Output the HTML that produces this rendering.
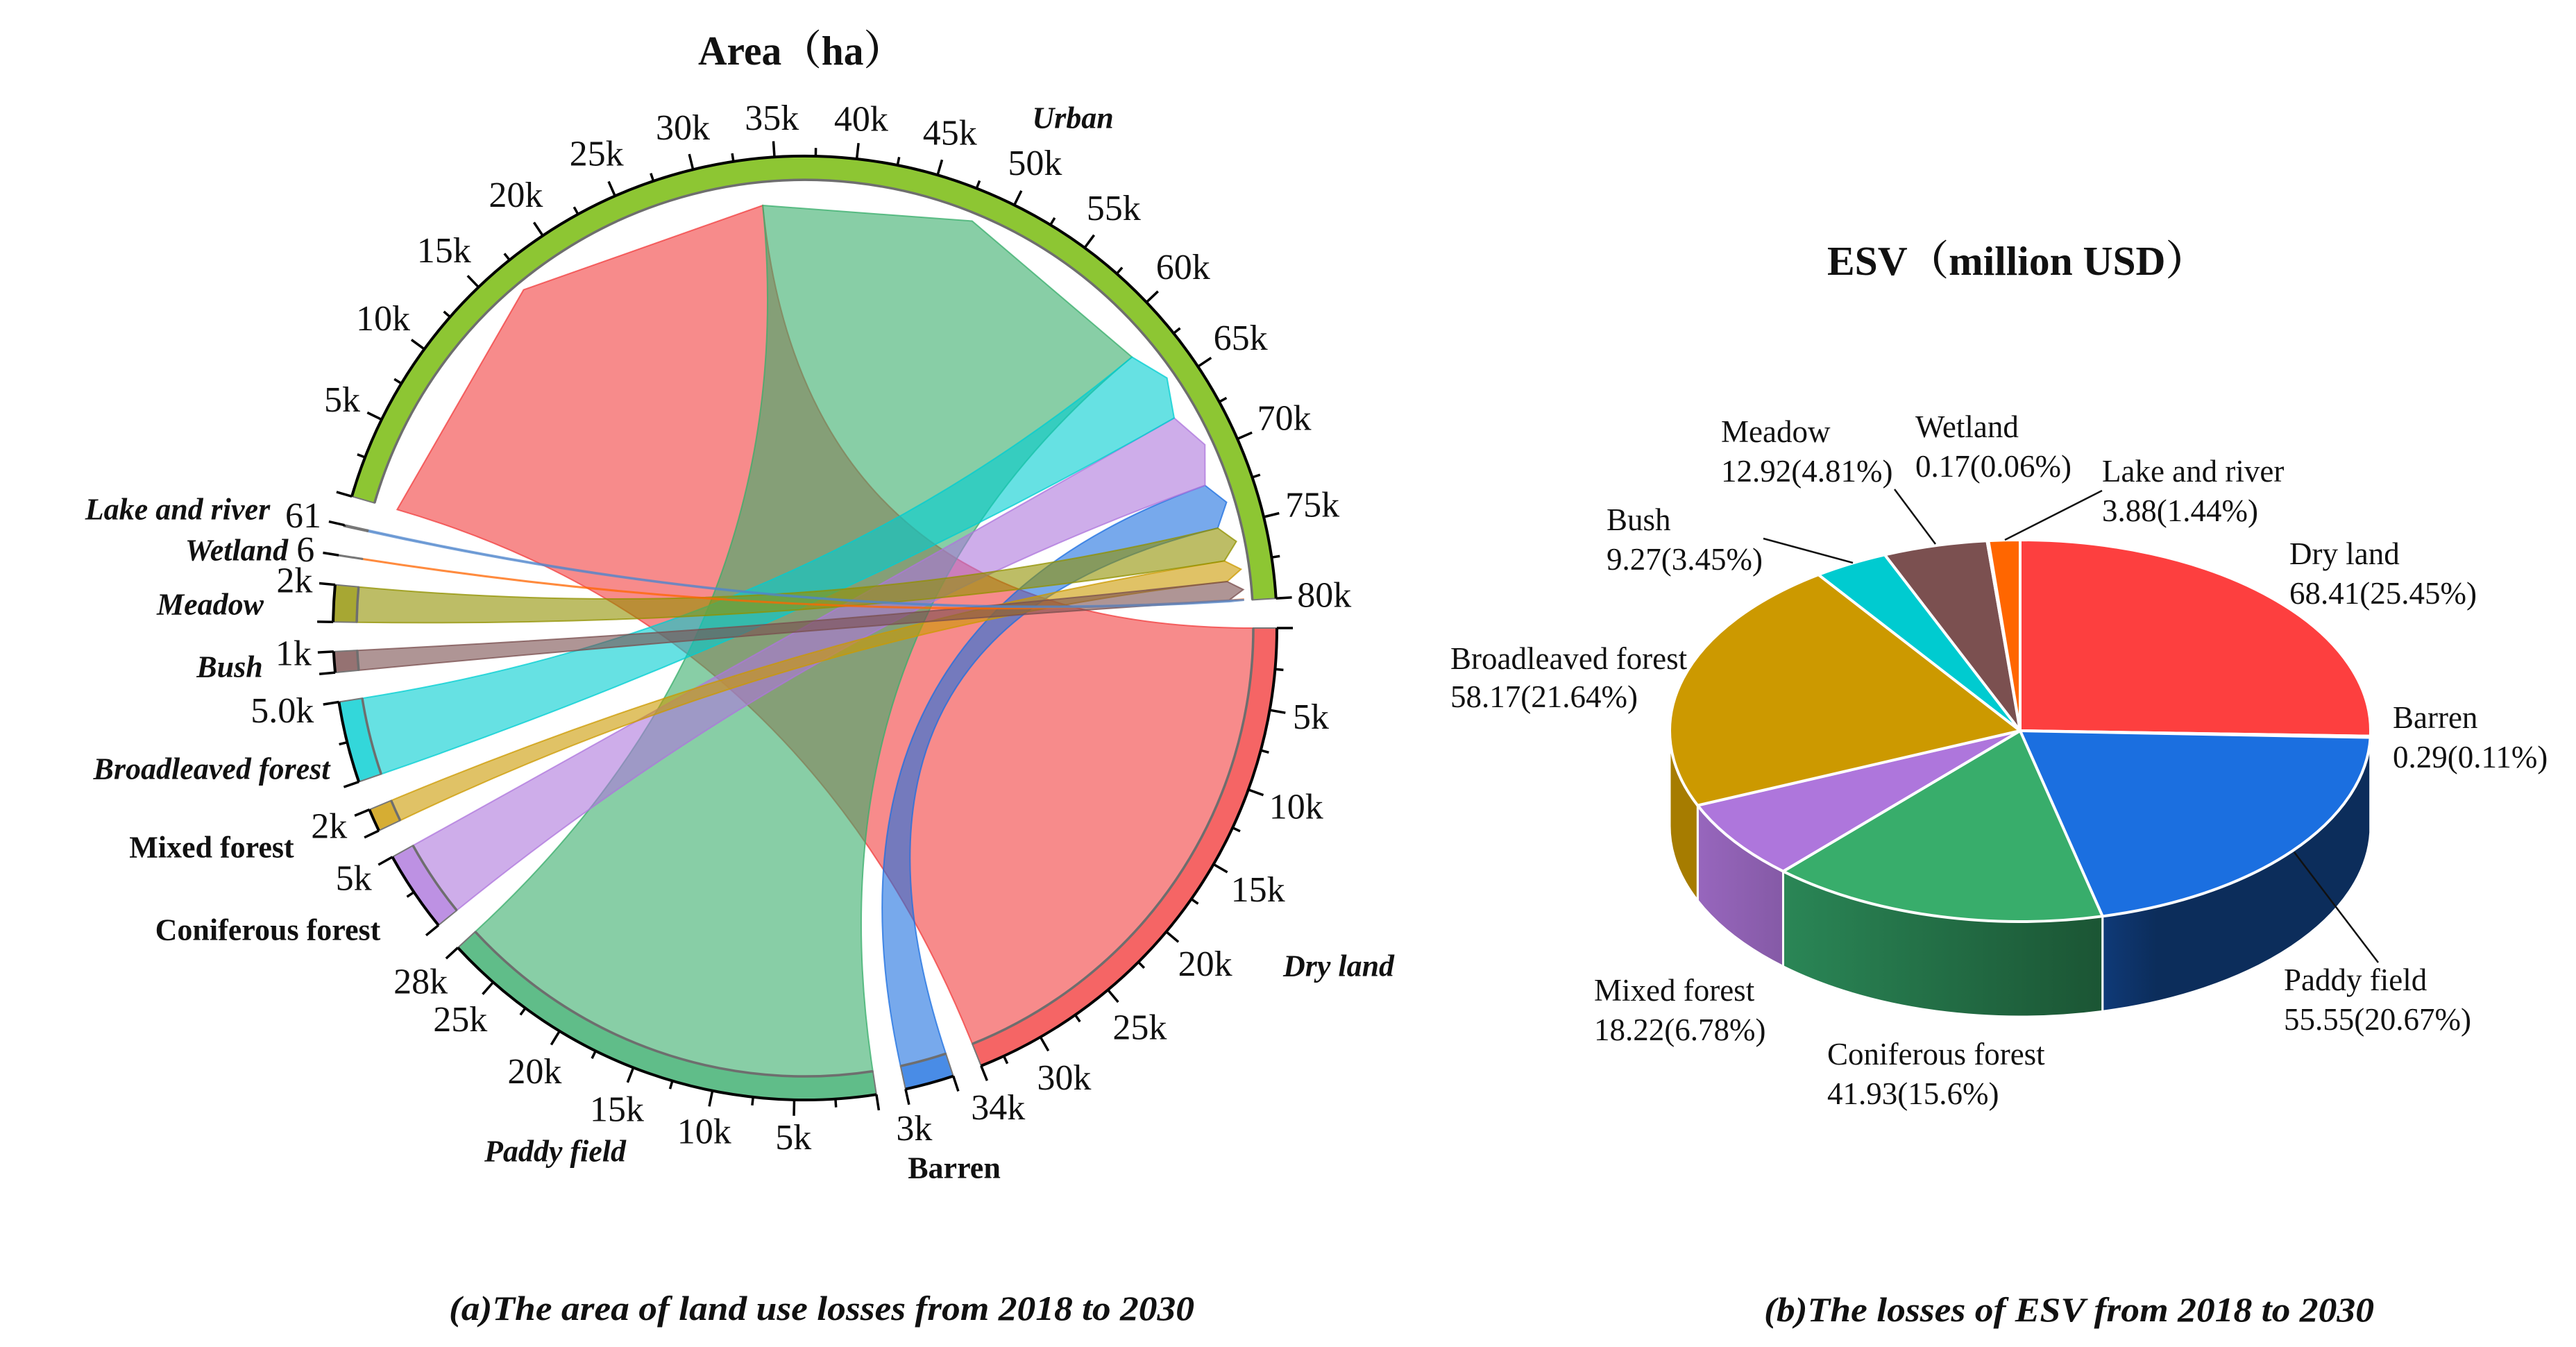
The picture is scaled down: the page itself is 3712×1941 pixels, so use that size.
<!DOCTYPE html>
<html lang="en">
<head>
<meta charset="utf-8">
<title>Land use losses and ESV losses</title>
<style>
html,body{margin:0;padding:0;background:#fff;}
svg{display:block;}
text{font-family:"Liberation Serif","Noto Serif CJK SC",serif;fill:#111;}
.cat{font-weight:bold;font-style:italic;font-size:44px;text-anchor:middle;dominant-baseline:central;}
.catb{font-weight:bold;font-size:44px;text-anchor:middle;dominant-baseline:central;}
.title{font-weight:bold;font-size:59px;dominant-baseline:central;}
.cap{font-weight:bold;font-style:italic;font-size:50px;dominant-baseline:central;}
.pl{font-size:45px;dominant-baseline:central;}
.tick{font-size:52px;text-anchor:middle;dominant-baseline:central;}
</style>
</head>
<body>
<svg xmlns="http://www.w3.org/2000/svg" width="3712" height="1941" viewBox="0 0 3712 1941">
  <defs>
    <linearGradient id="wall-paddy" gradientUnits="userSpaceOnUse" x1="3030" y1="0" x2="3416" y2="0"><stop offset="0" stop-color="#0f3a78"/><stop offset="0.2" stop-color="#0c2d5b"/><stop offset="1" stop-color="#0c2d5b"/></linearGradient>
    <linearGradient id="wall-conif" gradientUnits="userSpaceOnUse" x1="2570" y1="0" x2="3030" y2="0"><stop offset="0" stop-color="#2a8656"/><stop offset="1" stop-color="#1b5534"/></linearGradient>
    <linearGradient id="wall-mixed" gradientUnits="userSpaceOnUse" x1="2447" y1="0" x2="2570" y2="0"><stop offset="0" stop-color="#9766bd"/><stop offset="1" stop-color="#855aa6"/></linearGradient>
  </defs>

  <text class="title" x="1006" y="73" textLength="296" lengthAdjust="spacingAndGlyphs">Area（ha）</text>
  <g id="chord"></g>

  <text class="cat" x="1546" y="170">Urban</text>
  <text class="cat" x="1929" y="1392">Dry land</text>
  <text class="cat" x="800" y="1659">Paddy field</text>
  <text class="catb" x="1375" y="1683">Barren</text>
  <text class="catb" x="386" y="1340">Coniferous forest</text>
  <text class="catb" x="305" y="1221">Mixed forest</text>
  <text class="cat" x="305" y="1108">Broadleaved forest</text>
  <text class="cat" x="331" y="961">Bush</text>
  <text class="cat" x="303" y="871">Meadow</text>
  <text class="cat" x="341" y="793">Wetland</text>
  <text class="cat" x="256" y="734">Lake and river</text>

  <text class="cap" x="647" y="1885" textLength="1074" lengthAdjust="spacingAndGlyphs">(a)The area of land use losses from 2018 to 2030</text>

  <text class="title" x="2633" y="376" textLength="547" lengthAdjust="spacingAndGlyphs">ESV（million USD）</text>
  <g id="pie"></g>

  <g stroke="#111" stroke-width="2.5">
    <line x1="2889" y1="778" x2="3029" y2="707"/>
    <line x1="2789" y1="784" x2="2730" y2="705"/>
    <line x1="2670" y1="811" x2="2541" y2="776"/>
    <line x1="3306" y1="1228" x2="3427" y2="1387"/>
  </g>

  <g>
    <text class="pl" x="3299" y="798">Dry land</text>
    <text class="pl" x="3299" y="855">68.41(25.45%)</text>
    <text class="pl" x="3448" y="1034">Barren</text>
    <text class="pl" x="3448" y="1091">0.29(0.11%)</text>
    <text class="pl" x="3029" y="679">Lake and river</text>
    <text class="pl" x="3029" y="736">3.88(1.44%)</text>
    <text class="pl" x="2760" y="615">Wetland</text>
    <text class="pl" x="2760" y="672">0.17(0.06%)</text>
    <text class="pl" x="2480" y="622">Meadow</text>
    <text class="pl" x="2480" y="679">12.92(4.81%)</text>
    <text class="pl" x="2315" y="749">Bush</text>
    <text class="pl" x="2315" y="806">9.27(3.45%)</text>
    <text class="pl" x="2090" y="949">Broadleaved forest</text>
    <text class="pl" x="2090" y="1004">58.17(21.64%)</text>
    <text class="pl" x="3291" y="1412">Paddy field</text>
    <text class="pl" x="3291" y="1469">55.55(20.67%)</text>
    <text class="pl" x="2297" y="1427">Mixed forest</text>
    <text class="pl" x="2297" y="1484">18.22(6.78%)</text>
    <text class="pl" x="2633" y="1519">Coniferous forest</text>
    <text class="pl" x="2633" y="1576">41.93(15.6%)</text>
  </g>

  <text class="cap" x="2542" y="1887" textLength="879" lengthAdjust="spacingAndGlyphs">(b)The losses of ESV from 2018 to 2030</text>
</svg>

<script>
/* ---------- chord data (hectares lost, clockwise from 3 o'clock) ---------- */
const chordCategories = ['dry-land','barren','paddy-field','coniferous-forest','mixed-forest','broadleaved-forest','bush','meadow','wetland','lake-and-river'];
const chordValues = [34000,3000,28000,5000,1400,5000,1273,2260,6,61];
const chordEndLabels = ['34k','3k','28k','5k','2k','5.0k','1k','2k','6','61'];
const urbanEndLabel = '80k';
const urbanOrder = ['dry-land','paddy-field','broadleaved-forest','coniferous-forest','barren','meadow','mixed-forest','bush','wetland','lake-and-river'];

/* ---------- pie data (million USD, clockwise from 12 o'clock) ---------- */
const pieCategories = ['dry-land','barren','paddy-field','coniferous-forest','mixed-forest','broadleaved-forest','bush','meadow','wetland','lake-and-river'];
const pieValues = [68.41,0.29,55.55,41.93,18.22,58.17,9.27,12.92,0.17,3.88];

/* ---------- styling ---------- */
const chordColor = {'dry-land':'#f23e3e','barren':'#1c6fe0','paddy-field':'#38ad6b','coniferous-forest':'#ad76dc','mixed-forest':'#cc9900','broadleaved-forest':'#00cdd1','bush':'#7a4f4f','meadow':'#919100','wetland':'#ff6600','lake-and-river':'#4f86cc','urban':'#70b800'};
const pieTop = {'dry-land':'#fd3f3f','barren':'#ee3333','paddy-field':'#1b6fe0','coniferous-forest':'#38ad6b','mixed-forest':'#ae76dc','broadleaved-forest':'#cc9900','bush':'#00cbd0','meadow':'#7b5050','wetland':'#cc3333','lake-and-river':'#ff6600'};
const pieWall = {'dry-land':'#a12a2a','barren':'#0c2d5b','paddy-field':'url(#wall-paddy)','coniferous-forest':'url(#wall-conif)','mixed-forest':'url(#wall-mixed)','broadleaved-forest':'#a67c00','bush':'#008c90','meadow':'#553838','wetland':'#882222','lake-and-river':'#aa4400'};

const NS = 'http://www.w3.org/2000/svg';
const cx = 1160, cy = 905, R = 680, Rb = 646, Rt = 612, Rm = 634, GAP = 3.6;
const rad = d => d * Math.PI / 180;
const px = (r, a) => (cx + r * Math.cos(rad(a))).toFixed(1);
const py = (r, a) => (cy + r * Math.sin(rad(a))).toFixed(1);
const pt = (r, a) => px(r, a) + ' ' + py(r, a);

const chord = document.getElementById('chord');
const urbanTotal = chordValues.reduce((s, v) => s + v, 0);
const scale = (360 - GAP * (chordValues.length + 1)) / (urbanTotal * 2);
const valueAngle = v => v * scale;

/* source-segment angular ranges */
const segs = {};
let cursor = 0;
chordCategories.forEach((c, i) => {
  segs[c] = { a0: cursor, a1: cursor + valueAngle(chordValues[i]), value: chordValues[i], end: chordEndLabels[i] };
  cursor = segs[c].a1 + GAP;
});
segs['urban'] = { a0: cursor, a1: cursor + valueAngle(urbanTotal), value: urbanTotal, end: urbanEndLabel };

/* where each flow lands on the urban segment */
const targets = {};
let tc = segs['urban'].a0;
urbanOrder.forEach(c => {
  const v = chordValues[chordCategories.indexOf(c)];
  targets[c] = { b0: tc, b1: tc + valueAngle(v) };
  tc = targets[c].b1;
});

/* ribbons */
chordCategories.forEach(c => {
  const s = segs[c], t = targets[c];
  const mid = (t.b0 + t.b1) / 2;
  const large = (s.a1 - s.a0) > 180 ? 1 : 0;
  const d = 'M' + pt(Rb, s.a0) +
    ' A' + Rb + ' ' + Rb + ' 0 ' + large + ' 1 ' + pt(Rb, s.a1) +
    ' Q' + cx + ' ' + cy + ' ' + pt(Rt, t.b0) +
    ' L' + pt(Rm, mid) +
    ' L' + pt(Rt, t.b1) +
    ' Q' + cx + ' ' + cy + ' ' + pt(Rb, s.a0) + ' Z';
  const p = document.createElementNS(NS, 'path');
  p.setAttribute('d', d);
  p.setAttribute('fill', chordColor[c]);
  p.setAttribute('fill-opacity', '0.6');
  p.setAttribute('stroke', chordColor[c]);
  p.setAttribute('stroke-opacity', '0.75');
  p.setAttribute('stroke-width', s.value < 100 ? '3' : '2');
  
  
  chord.appendChild(p);
});

/* segments, axis, ticks */
Object.keys(segs).forEach(c => {
  const s = segs[c];
  const large = (s.a1 - s.a0) > 180 ? 1 : 0;

  const band = document.createElementNS(NS, 'path');
  band.setAttribute('d', 'M' + pt(Rb, s.a0) + ' A' + Rb + ' ' + Rb + ' 0 ' + large + ' 1 ' + pt(Rb, s.a1) +
    ' L' + pt(R, s.a1) + ' A' + R + ' ' + R + ' 0 ' + large + ' 0 ' + pt(R, s.a0) + ' Z');
  band.setAttribute('fill', chordColor[c]);
  band.setAttribute('fill-opacity', '0.8');
  band.setAttribute('stroke', '#777');
  band.setAttribute('stroke-width', s.value < 100 ? '3' : '2');
  
  
  chord.appendChild(band);

  const inner = document.createElementNS(NS, 'path');
  inner.setAttribute('d', 'M' + pt(Rb, s.a0) + ' A' + Rb + ' ' + Rb + ' 0 ' + large + ' 1 ' + pt(Rb, s.a1));
  inner.setAttribute('fill', 'none');
  inner.setAttribute('stroke', '#6e6e6e');
  inner.setAttribute('stroke-width', '3.5');
  
  
  chord.appendChild(inner);

  const axis = document.createElementNS(NS, 'path');
  axis.setAttribute('d', 'M' + pt(R, s.a0) + ' A' + R + ' ' + R + ' 0 ' + large + ' 1 ' + pt(R, s.a1));
  axis.setAttribute('fill', 'none');
  axis.setAttribute('stroke', '#000');
  axis.setAttribute('stroke-width', '4');
  
  
  chord.appendChild(axis);

  const ticks = [];
  if (s.value >= 100) ticks.push({ v: 0, major: true, label: '' });
  for (let v = 2500; v < s.value - 600; v += 2500) {
    const major = v % 5000 === 0;
    ticks.push({ v: v, major: major, label: major ? (v / 1000) + 'k' : '' });
  }
  ticks.push({ v: s.value, major: true, label: s.end });

  ticks.forEach(t => {
    const a = s.a0 + valueAngle(t.v);
    const len = t.major ? 23 : 12;
    const ln = document.createElementNS(NS, 'line');
    ln.setAttribute('x1', px(R, a));
    ln.setAttribute('y1', py(R, a));
    ln.setAttribute('x2', px(R + len, a));
    ln.setAttribute('y2', py(R + len, a));
    ln.setAttribute('stroke', '#000');
    ln.setAttribute('stroke-width', '3.5');
    
    
    chord.appendChild(ln);
    if (t.label) {
      const halfW = t.label.length * 11.5;
      const off = R + 34 + halfW * Math.abs(Math.cos(rad(a))) + 20 * Math.abs(Math.sin(rad(a)));
      const tx = document.createElementNS(NS, 'text');
      tx.setAttribute('class', 'tick');
      tx.setAttribute('x', px(off, a));
      tx.setAttribute('y', py(off, a));
      
      
      tx.textContent = t.label;
      chord.appendChild(tx);
    }
  });
});

/* ---------- pie ---------- */
const pie = document.getElementById('pie');
const pcx = 2911, pcy = 1053, prx = 505, pry = 275, depth = 137;
const pieTotal = pieValues.reduce((s, v) => s + v, 0);
const ex = a => (pcx + prx * Math.sin(rad(a))).toFixed(1);
const ey = (a, dy) => (pcy - pry * Math.cos(rad(a)) + (dy || 0)).toFixed(1);

const slices = [];
let pc = 0;
pieCategories.forEach((c, i) => {
  const sweep = pieValues[i] / pieTotal * 360;
  slices.push({ c: c, a0: pc, a1: pc + sweep });
  pc += sweep;
});

slices.forEach(s => {
  const w0 = Math.max(s.a0, 90), w1 = Math.min(s.a1, 270);
  if (w1 <= w0) return;
  const wall = document.createElementNS(NS, 'path');
  wall.setAttribute('d', 'M' + ex(w0) + ' ' + ey(w0) +
    ' A' + prx + ' ' + pry + ' 0 0 1 ' + ex(w1) + ' ' + ey(w1) +
    ' L' + ex(w1) + ' ' + ey(w1, depth) +
    ' A' + prx + ' ' + pry + ' 0 0 0 ' + ex(w0) + ' ' + ey(w0, depth) + ' Z');
  wall.setAttribute('fill', pieWall[s.c]);
  wall.setAttribute('stroke', '#fff');
  wall.setAttribute('stroke-width', '3');
  
  
  pie.appendChild(wall);
});

slices.forEach(s => {
  const large = (s.a1 - s.a0) > 180 ? 1 : 0;
  const top = document.createElementNS(NS, 'path');
  top.setAttribute('d', 'M' + pcx + ' ' + pcy + ' L' + ex(s.a0) + ' ' + ey(s.a0) +
    ' A' + prx + ' ' + pry + ' 0 ' + large + ' 1 ' + ex(s.a1) + ' ' + ey(s.a1) + ' Z');
  top.setAttribute('fill', pieTop[s.c]);
  top.setAttribute('stroke', '#fff');
  top.setAttribute('stroke-width', '4');
  top.setAttribute('stroke-linejoin', 'round');
  
  
  pie.appendChild(top);
});
</script>
</body>
</html>
